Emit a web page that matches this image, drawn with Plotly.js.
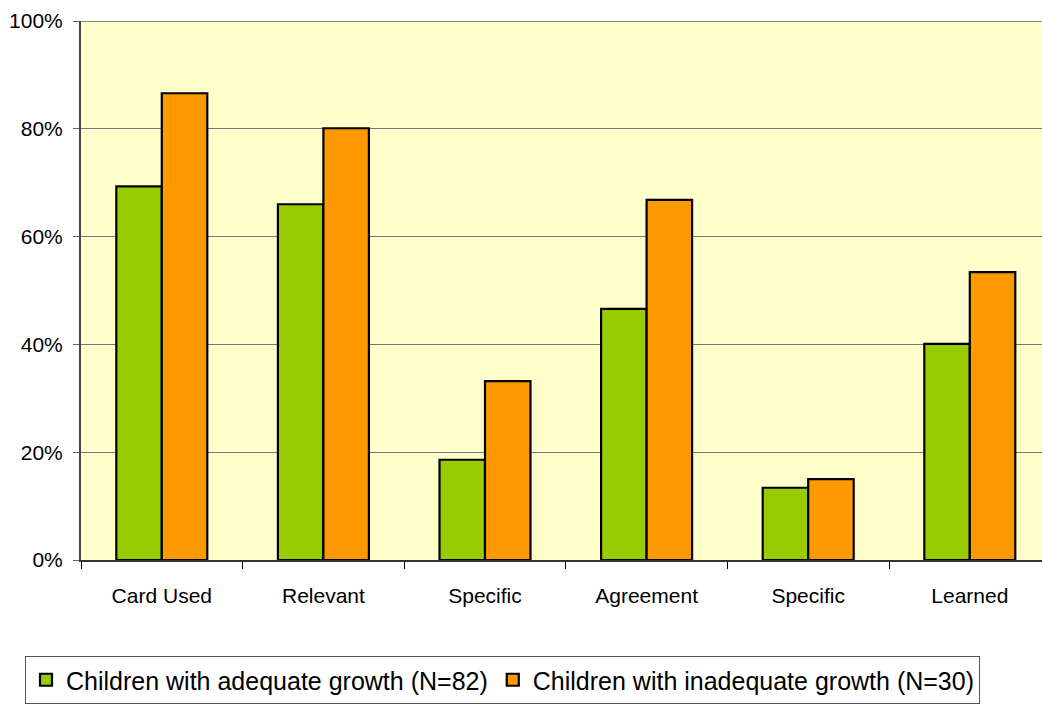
<!DOCTYPE html>
<html>
<head>
<meta charset="utf-8">
<script src="https://cdn.plot.ly/plotly-3.0.1.min.js"></script>
<style>
html,body{margin:0;padding:0;background:#fff;overflow:hidden;}
#chart{width:1042px;height:709px;}
</style>
</head>
<body>
<div id="chart"></div>
<script>
const categories = ["Card Used", "Relevant", "Specific", "Agreement", "Specific", "Learned"];
const adequateName = "Children with adequate growth (N=82)";
const inadequateName = "Children with inadequate growth (N=30)";
const adequateValues = [69.3, 66.0, 18.6, 46.6, 13.4, 40.1];
const inadequateValues = [86.6, 80.1, 33.2, 66.8, 15.0, 53.4];
const yTickVals = [0, 20, 40, 60, 80, 100];
const yTickLabels = ["0%", "20%", "40%", "60%", "80%", "100%"];

const xIdx = categories.map((c, i) => i);

const traces = [
  {
    type: "bar", name: adequateName, x: xIdx, y: adequateValues,
    marker: {color: "#99CC00", line: {color: "#000000", width: 2.2}},
    hoverinfo: "y"
  },
  {
    type: "bar", name: inadequateName, x: xIdx, y: inadequateValues,
    marker: {color: "#FF9900", line: {color: "#000000", width: 2.2}},
    hoverinfo: "y"
  }
];

const plotW = 1042 - 81;
const catW = 161.6;

const layout = {
  width: 1042, height: 709,
  margin: {l: 81, r: 0, t: 21, b: 149, pad: 0},
  paper_bgcolor: "#ffffff",
  plot_bgcolor: "#FFFFCC",
  font: {family: "Liberation Sans, Arial, sans-serif", size: 21, color: "#000"},
  barmode: "group",
  bargap: 0.437,
  bargroupgap: 0,
  showlegend: true,
  legend: {
    orientation: "h",
    xref: "container", yref: "container",
    x: 0.024, xanchor: "left",
    y: 1 - 656 / 709, yanchor: "top",
    bgcolor: "#ffffff",
    bordercolor: "#555555", borderwidth: 1,
    font: {size: 25, family: "Liberation Sans, Arial, sans-serif", color: "#000"},
    itemwidth: 30,
    traceorder: "normal"
  },
  shapes: [
    {type: "line", xref: "paper", yref: "y", x0: 0, x1: 1, y0: 100, y1: 100,
     line: {color: "#888888", width: 2}, layer: "above"}
  ],
  xaxis: {
    type: "category",
    range: [-0.5, -0.5 + plotW / catW],
    tickvals: xIdx,
    ticktext: categories,
    tickson: "boundaries",
    ticks: "outside", ticklen: 7, tickwidth: 1, tickcolor: "#000",
    showline: true, linecolor: "#333333", linewidth: 2,
    showgrid: false, zeroline: false,
    ticklabelstandoff: 16,
    tickfont: {size: 21},
    fixedrange: true
  },
  yaxis: {
    range: [0, 100],
    tickmode: "array",
    tickvals: yTickVals,
    ticktext: yTickLabels,
    ticks: "outside", ticklen: 6, tickwidth: 1, tickcolor: "#666",
    showline: true, linecolor: "#444444", linewidth: 2,
    showgrid: true, gridcolor: "#777777", gridwidth: 1,
    zeroline: false,
    ticklabelstandoff: 6,
    tickfont: {size: 21},
    fixedrange: true
  }
};

Plotly.newPlot("chart", traces, layout, {displayModeBar: false, staticPlot: true});
</script>
</body>
</html>
